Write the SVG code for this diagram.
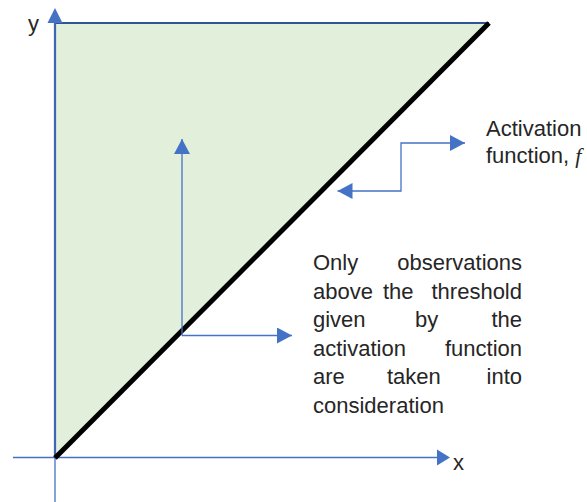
<svg xmlns="http://www.w3.org/2000/svg" width="587" height="502" viewBox="0 0 587 502">
<style>
.axis{stroke:#4472C4;stroke-width:1.3;fill:none}
.conn{stroke:#4472C4;stroke-width:1.3;fill:none}
.head{fill:#4472C4}
.lbl{font-family:"Liberation Sans",Arial,sans-serif;font-size:22px;fill:#262626}
</style>
<defs>
<marker id="arr" viewBox="0 0 15 16" refX="15" refY="8" markerWidth="15" markerHeight="16" markerUnits="userSpaceOnUse" orient="auto-start-reverse">
<path d="M0,0 L15,8 L0,16 Z" fill="#4472C4"/>
</marker>
</defs>
<rect width="587" height="502" fill="#ffffff"/>
<g id="region">
<polygon points="55,23 489,23 55,458" fill="#E2EFDA"/>
<polyline points="55,458 55,23 489,23" fill="none" stroke="#2F5597" stroke-width="2.2"/>
</g>
<g id="axes">
<line class="axis" x1="55" y1="502" x2="55" y2="23"/>
<polygon class="head" points="55,8 47.5,23 62.5,23"/>
<line class="axis" x1="13" y1="457.5" x2="438" y2="457.5"/>
<polygon class="head" points="450,457.5 437,449.5 437,465.5"/>
<text class="lbl" x="28" y="31">y</text>
<text class="lbl" x="453" y="470">x</text>
</g>
<g id="activation-line">
<line x1="55" y1="458" x2="489" y2="23" stroke="#000000" stroke-width="5"/>
</g>
<g id="connectors">
<line class="conn" x1="182" y1="335.5" x2="182" y2="139" marker-end="url(#arr)"/>
<line class="conn" x1="182" y1="335.5" x2="292" y2="335.5" marker-end="url(#arr)"/>
<polyline class="conn" points="337.5,191 401,191 401,143 465,143" marker-start="url(#arr)" marker-end="url(#arr)"/>
</g>
<g id="label-activation">
<text class="lbl" x="486" y="136">Activation</text>
<text class="lbl" x="486" y="163">function, <tspan font-family="'Liberation Serif',serif" font-style="italic">f</tspan></text>
</g>
<g id="label-observations">
<text class="lbl" x="313" y="270">Only</text>
<text class="lbl" x="522" y="270" text-anchor="end">observations</text>
<text class="lbl" x="313" y="298.5">above</text>
<text class="lbl" x="383" y="298.5">the</text>
<text class="lbl" x="522" y="298.5" text-anchor="end">threshold</text>
<text class="lbl" x="313" y="327">given</text>
<text class="lbl" x="415" y="327">by</text>
<text class="lbl" x="522" y="327" text-anchor="end">the</text>
<text class="lbl" x="313" y="355.5">activation</text>
<text class="lbl" x="522" y="355.5" text-anchor="end">function</text>
<text class="lbl" x="313" y="384">are</text>
<text class="lbl" x="387" y="384">taken</text>
<text class="lbl" x="522" y="384" text-anchor="end">into</text>
<text class="lbl" x="313" y="412.5">consideration</text>
</g>
</svg>
